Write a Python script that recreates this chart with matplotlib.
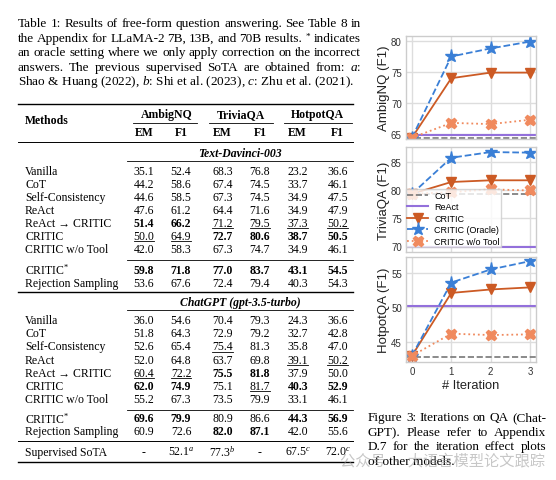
import matplotlib
matplotlib.use('Agg')
import matplotlib.pyplot as plt
from matplotlib.lines import Line2D

W, H = 556, 481

# ---- data: iteration plot (ChatGPT, F1) ----
iters = [0, 1, 2, 3]
ambig_cot, ambig_react = 64.3, 64.8
ambig_critic = [64.4, 74.0, 74.9, 74.9]
ambig_oracle = [64.4, 77.5, 78.8, 79.9]
ambig_notool = [64.4, 66.8, 66.6, 67.3]

trivia_cot, trivia_react = 79.2, 69.8
trivia_critic = [79.3, 81.4, 81.7, 81.7]
trivia_oracle = [79.3, 85.7, 86.7, 86.6]
trivia_notool = [79.3, 79.6, 80.1, 79.9]

hotpot_cot, hotpot_react = 42.8, 50.2
hotpot_critic = [43.0, 52.1, 52.6, 52.9]
hotpot_oracle = [43.0, 53.6, 55.5, 56.7]
hotpot_notool = [43.0, 46.2, 46.0, 46.1]

# ---- data: table ----
methods = ["Vanilla", "CoT", "Self-Consistency", "ReAct", "ReAct \u2192 CRITIC",
           "CRITIC", "CRITIC w/o Tool", "CRITIC$^{*}$", "Rejection Sampling"]
davinci_vals = [
    ["35.1", "52.4", "68.3", "76.8", "23.2", "36.6"],
    ["44.2", "58.6", "67.4", "74.5", "33.7", "46.1"],
    ["44.6", "58.5", "67.3", "74.5", "34.9", "47.5"],
    ["47.6", "61.2", "64.4", "71.6", "34.9", "47.9"],
    ["51.4", "66.2", "71.2", "79.5", "37.3", "50.2"],
    ["50.0", "64.9", "72.7", "80.6", "38.7", "50.5"],
    ["42.0", "58.3", "67.3", "74.7", "34.9", "46.1"],
    ["59.8", "71.8", "77.0", "83.7", "43.1", "54.5"],
    ["53.6", "67.6", "72.4", "79.4", "40.3", "54.3"],
]
chatgpt_vals = [
    ["36.0", "54.6", "70.4", "79.3", "24.3", "36.6"],
    ["51.8", "64.3", "72.9", "79.2", "32.7", "42.8"],
    ["52.6", "65.4", "75.4", "81.3", "35.8", "47.0"],
    ["52.0", "64.8", "63.7", "69.8", "39.1", "50.2"],
    ["60.4", "72.2", "75.5", "81.8", "37.9", "50.0"],
    ["62.0", "74.9", "75.1", "81.7", "40.3", "52.9"],
    ["55.2", "67.3", "73.5", "79.9", "33.1", "46.1"],
    ["69.6", "79.9", "80.9", "86.6", "44.3", "56.9"],
    ["60.9", "72.6", "82.0", "87.1", "42.0", "55.6"],
]
sota_vals = ["-", "52.1$^{a}$", "77.3$^{b}$", "-", "67.5$^{c}$", "72.0$^{c}$"]
davinci_bold = [(4, 0), (4, 1), (5, 2), (5, 3), (5, 4), (5, 5),
                (7, 0), (7, 1), (7, 2), (7, 3), (7, 4), (7, 5)]
davinci_under = [(4, 2), (4, 3), (4, 4), (4, 5), (5, 0), (5, 1)]
chatgpt_bold = [(4, 2), (4, 3), (5, 0), (5, 1), (5, 4), (5, 5),
                (7, 0), (7, 1), (7, 4), (7, 5), (8, 2), (8, 3)]
chatgpt_under = [(2, 2), (3, 4), (3, 5), (4, 0), (4, 1), (5, 3)]

plt.rcParams['mathtext.fontset'] = 'custom'
plt.rcParams['mathtext.rm'] = 'Liberation Serif'
plt.rcParams['mathtext.it'] = 'Liberation Serif:italic'
plt.rcParams['mathtext.bf'] = 'Liberation Serif:bold'

fig = plt.figure(figsize=(W / 100, H / 100), dpi=100)
renderer = fig.canvas.get_renderer()

SERIF = ['Liberation Serif', 'DejaVu Serif']
FS = 8.5     # table
FS_CAP = 9.5  # captions


def fx(px):
    return px / W


def fy(py):
    return 1 - py / H


def txt(x, y, s, **kw):
    kw.setdefault('family', SERIF)
    kw.setdefault('fontsize', FS)
    kw.setdefault('va', 'center')
    return fig.text(fx(x), fy(y), s, **kw)


def rule(x0, x1, y, lw=0.6):
    fig.add_artist(Line2D([fx(x0), fx(x1)], [fy(y), fy(y)],
                          transform=fig.transFigure, color='black', lw=lw))


def justify(line, x0, x1, y, **kw):
    words = line.split(' ')
    ts = [txt(0, y, w, **kw) for w in words]
    ws = [t.get_window_extent(renderer).width for t in ts]
    gap = (x1 - x0 - sum(ws)) / (len(ws) - 1)
    x = x0
    for t, w in zip(ts, ws):
        t.set_x(fx(x))
        x += w + gap


# ---- table caption ----
cap = ["Table 1: Results of free-form question answering. See Table 8 in",
       "the Appendix for LLaMA-2 7B, 13B, and 70B results. $^{*}$ indicates",
       "an oracle setting where we only apply correction on the incorrect",
       "answers. The previous supervised SoTA are obtained from: $a$:"]
for i, line in enumerate(cap):
    justify(line, 18, 361, 24 + 14.6 * i, fontsize=FS_CAP)
txt(18, 82.4, "Shao & Huang (2022), $b$: Shi et al. (2023), $c$: Zhu et al. (2021).",
    fontsize=FS_CAP)

# ---- table ----
cols = [144, 181, 222.7, 260, 297.7, 337.7]
name_x = 25
rule(18, 353, 105, lw=1.0)
txt(name_x, 121, "Methods", weight='bold')
for name, cx, (a, b) in [("AmbigNQ", 166.7, (133, 197)),
                         ("TriviaQA", 240.5, (209, 273)),
                         ("HotpotQA", 317.5, (284, 352))]:
    txt(cx, 115, name, weight='bold', ha='center')
    rule(a, b, 124, lw=0.6)
for i, cx in enumerate(cols):
    txt(cx, 133.5, "EM" if i % 2 == 0 else "F1", weight='bold', ha='center')
rule(18, 353, 143, lw=0.7)


def block(title, ty, vals, bold, under, ys):
    txt(240, ty, title, weight='bold', style='italic', ha='center')
    rule(127, 353, ty + 8.5, lw=0.6)
    for r, (name, row) in enumerate(zip(methods, vals)):
        y = ys[r]
        txt(name_x, y, name)
        for c, v in enumerate(row):
            w = 'bold' if (r, c) in bold else 'normal'
            t = txt(cols[c], y, v, ha='center', weight=w)
            if (r, c) in under:
                wd = t.get_window_extent(renderer).width
                rule(cols[c] - wd / 2, cols[c] + wd / 2, y + 5.2, lw=0.6)
    rule(127, 353, ys[6] + 10.5, lw=0.6)


ys1 = [171.7 + 13.1 * i for i in range(7)] + [270.7, 283.7]
block("Text-Davinci-003", 153.8, davinci_vals, davinci_bold, davinci_under, ys1)
rule(18, 353, 293.3, lw=1.0)
ys2 = [321 + 13.2 * i for i in range(7)] + [419.3, 432.3]
block("ChatGPT (gpt-3.5-turbo)", 302.8, chatgpt_vals, chatgpt_bold, chatgpt_under, ys2)
rule(18, 353, 442.3, lw=0.7)
txt(name_x, 452.8, "Supervised SoTA")
for c, v in enumerate(sota_vals):
    txt(cols[c], 452.8, v, ha='center')
rule(18, 353, 462.7, lw=1.0)

# ---- iteration plots ----
c_cot, c_react = '#777777', '#9370DB'
c_critic, c_oracle, c_notool = '#CC5A24', '#3A7FD6', '#F08A5E'
SANS = ['Liberation Sans', 'DejaVu Sans']

panels = [
    (37, 140, (64.2, 80.8), [65, 70, 75, 80], "AmbigNQ (F1)",
     ambig_cot, ambig_react, ambig_critic, ambig_oracle, ambig_notool),
    (148, 253, (69.0, 87.6), [70, 75, 80, 85], "TriviaQA (F1)",
     trivia_cot, trivia_react, trivia_critic, trivia_oracle, trivia_notool),
    (258, 363, (42.1, 57.3), [45, 50, 55], "HotpotQA (F1)",
     hotpot_cot, hotpot_react, hotpot_critic, hotpot_oracle, hotpot_notool),
]
axes = []
for top, bot, ylim, yt, lab, cot, react, critic, oracle, notool in panels:
    ax = fig.add_axes([fx(406), fy(bot), (536 - 406) / W, (bot - top) / H])
    ax.axhline(cot, color=c_cot, ls='--', lw=1.2, label='CoT')
    ax.axhline(react, color=c_react, lw=1.5, label='ReAct')
    ax.plot(iters, critic, color=c_critic, marker='v', ms=7, lw=1.3, label='CRITIC')
    ax.plot(iters, oracle, color=c_oracle, marker='*', ms=9.5, lw=1.3, ls='--',
            label='CRITIC (Oracle)')
    ax.plot(iters, notool, color=c_notool, marker='X', ms=7.5, lw=1.3, ls=':',
            label='CRITIC w/o Tool')
    ax.set_xlim(-0.15, 3.15)
    ax.set_ylim(*ylim)
    ax.set_xticks(iters)
    ax.set_yticks(yt)
    ax.set_axisbelow(True)
    ax.grid(True, color='#dddddd', lw=1.0)
    for s in ax.spines.values():
        s.set_color('#cccccc')
        s.set_linewidth(1.0)
    ax.tick_params(length=0, labelsize=7, colors='#333333', pad=3)
    for t in ax.get_yticklabels() + ax.get_xticklabels():
        t.set_family(SANS)
    ax.set_ylabel(lab, family=SANS, fontsize=9.5, color='#222222', labelpad=0.5)
    axes.append(ax)

axes[0].tick_params(labelbottom=False)
axes[1].tick_params(labelbottom=False)
axes[2].set_xlabel("# Iteration", family=SANS, fontsize=9.3, color='#222222', labelpad=2)
axes[1].legend(loc='lower left', bbox_to_anchor=(0.0, 0.045), prop={'family': SANS, 'size': 6.5},
               framealpha=0.8, edgecolor='#cccccc', borderpad=0.15, labelspacing=0.28,
               handlelength=2.33, handletextpad=0.66, borderaxespad=0.0, fancybox=False)

# ---- figure caption ----
fcap = ["Figure 3: Iterations on QA (Chat-",
        "GPT). Please refer to Appendix",
        "D.7 for the iteration effect plots"]
for i, line in enumerate(fcap):
    justify(line, 368, 546, 418.3 + 14.5 * i, fontsize=FS_CAP)
txt(368, 461.8, "of other models.", fontsize=FS_CAP)

# watermark
fig.text(fx(340), fy(461), "公众号 · 大语言模型论文跟踪", family=['Noto Sans CJK SC', 'DejaVu Sans'],
         fontsize=11, color='#999999', alpha=0.55, va='center')

fig.savefig('out.png', dpi=100)
